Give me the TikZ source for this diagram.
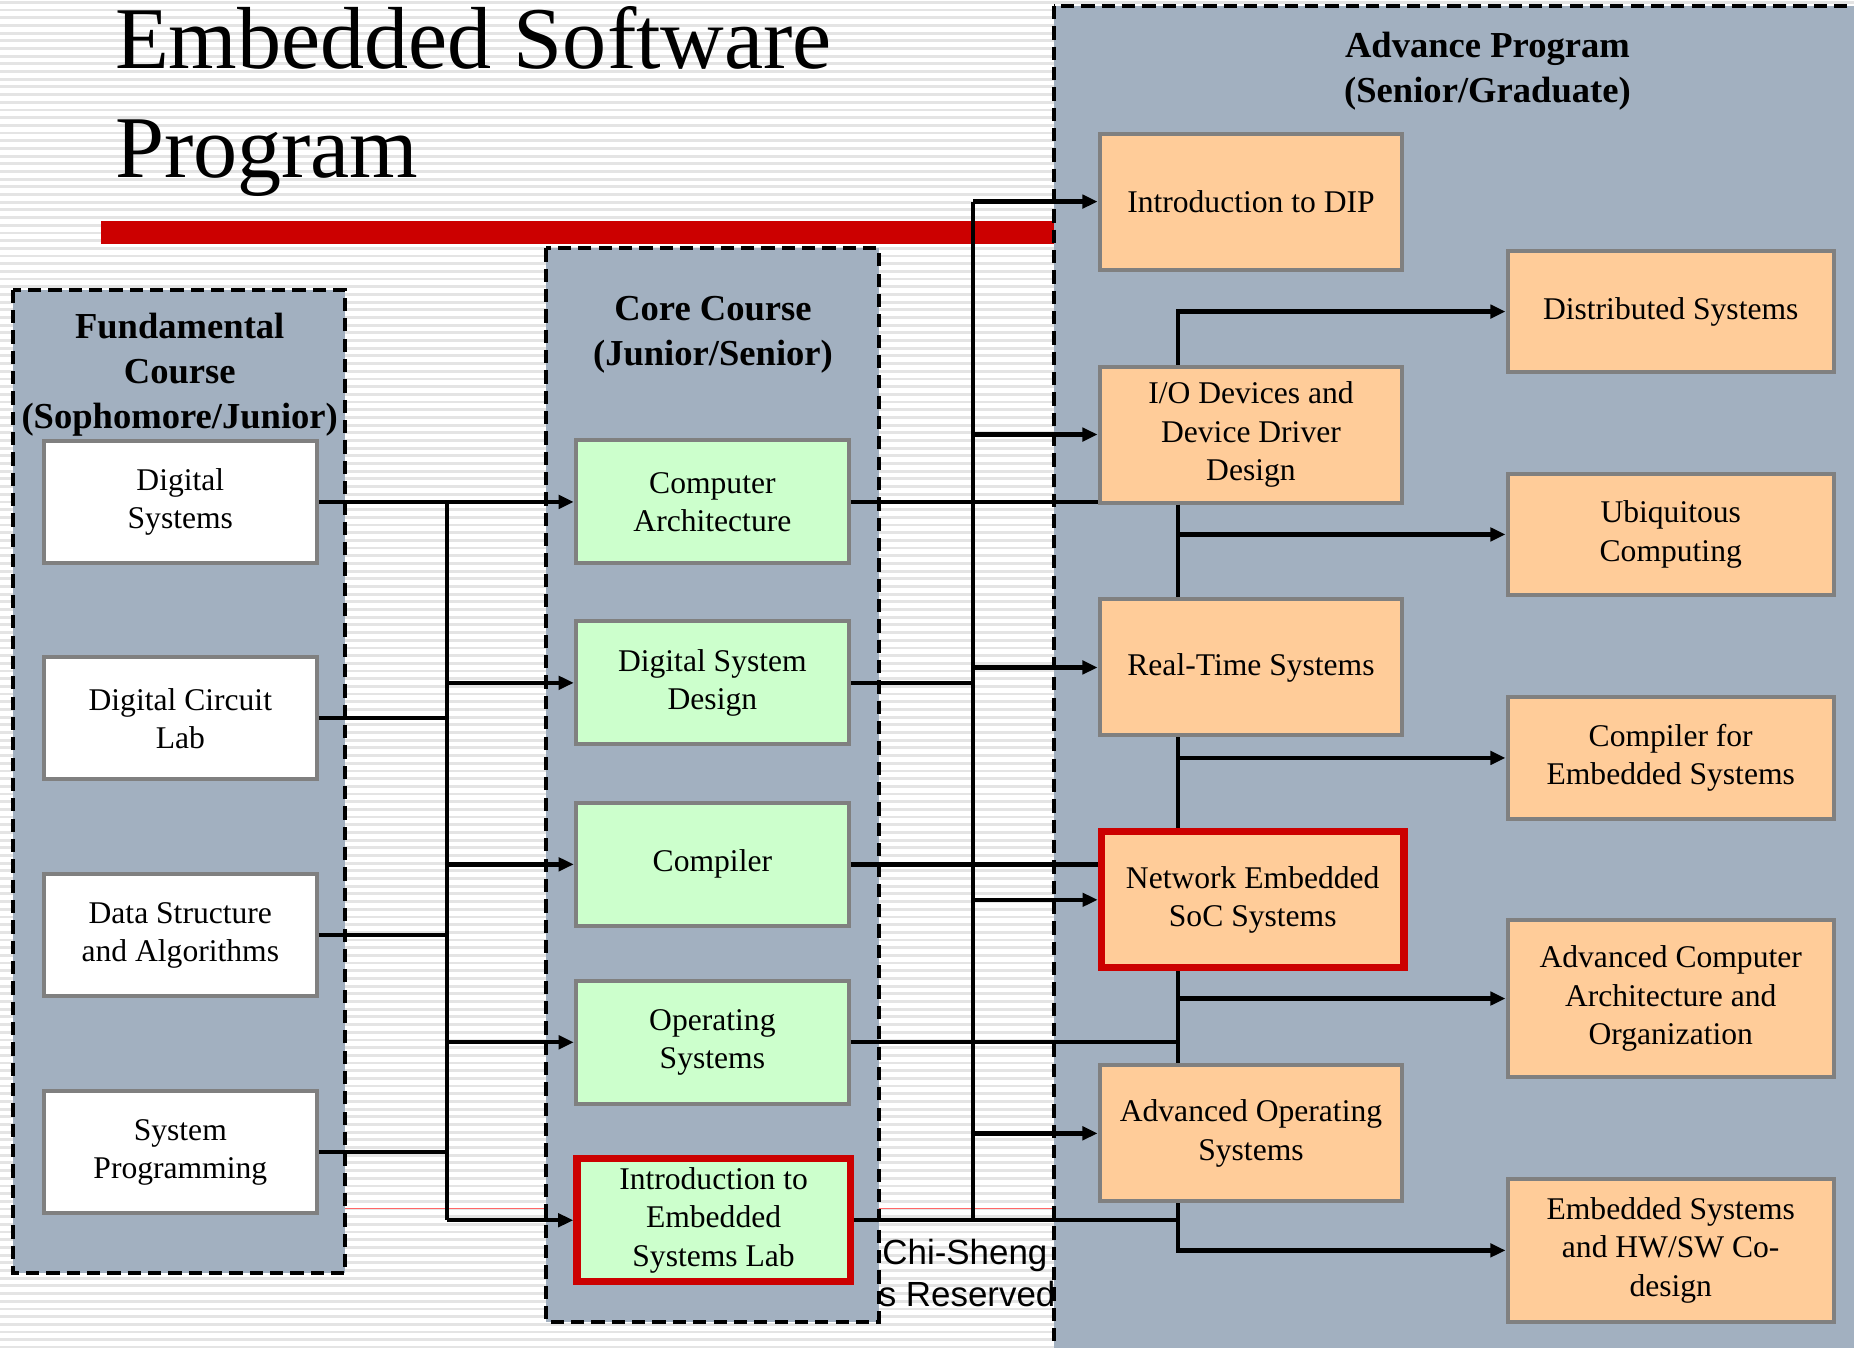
\documentclass[tikz,border=0pt]{standalone}
\usepackage{fontspec}
\setmainfont{Liberation Serif}
\newfontfamily\footfont{Liberation Sans}
\usetikzlibrary{arrows.meta, positioning, calc}
\definecolor{grpfill}{RGB}{162,176,192}
\definecolor{coregreen}{RGB}{204,255,204}
\definecolor{advpeach}{RGB}{255,204,153}
\definecolor{boxgray}{RGB}{128,128,128}
\definecolor{keyred}{RGB}{204,0,0}
\definecolor{stripegray}{RGB}{228,228,228}
\tikzset{
  course/.style={rectangle, draw=boxgray, line width=2.4pt, align=center,
    inner sep=2pt, font=\fontsize{19}{23}\selectfont},
  fundbox/.style={course, fill=white, minimum width=5.775cm, minimum height=2.575cm},
  corebox/.style={course, fill=coregreen, minimum width=5.775cm, minimum height=2.6cm},
  advbox/.style={course, fill=advpeach, minimum width=6.4cm, minimum height=2.875cm},
  advboxr/.style={course, fill=advpeach, minimum width=6.9cm, minimum height=2.575cm},
  keybox/.style={draw=keyred, line width=4.4pt},
  grpbox/.style={draw=black, line width=2.4pt, dash pattern=on 0.28cm off 0.15cm, fill=grpfill},
  grptitle/.style={font=\bfseries\fontsize{22}{27}\selectfont, align=center},
  conn/.style={line width=2.6pt},
  arr/.style={conn, -{Triangle[length=0.32cm,width=0.28cm]}}
}

\begin{document}
\begin{tikzpicture}[x=0.025cm, y=-0.025cm]
  \clip (0,0) rectangle (1568,1140);
  % striped slide background
  \fill[white] (0,0) rectangle (1568,1140);
  \foreach \y in {2,8.5,...,1140}
    \draw[stripegray, line width=0.06cm] (0,\y) -- (1568,\y);

  % title and red bar
  \node[anchor=base west, font=\fontsize{53}{65}\selectfont, inner sep=0pt] (title1) at (97,58) {Embedded Software};
  \node[anchor=base west, font=\fontsize{53}{65}\selectfont, inner sep=0pt] (title2) at (97,150) {Program};
  \fill[keyred] (85,187) rectangle (891,206);

  % footer remains behind the groups
  \draw[red!60, line width=0.6pt] (292,1022) -- (891,1022);
  \node[anchor=west, inner sep=0pt, font=\footfont\fontsize{21}{25}\selectfont] (foot1) at (746,1062) {Chi-Sheng};
  \node[anchor=west, inner sep=0pt, font=\footfont\fontsize{21}{25}\selectfont] (foot2) at (743,1094) {s Reserved};

  % groups
  \draw[grpbox] (11,245) rectangle (292,1077);
  \draw[grpbox] (462,210) rectangle (743,1118);
  \draw[grpbox] (891,5) rectangle (1600,1180);
  \node[grptitle] (fundtitle) at (152,317) {Fundamental\\Course\\(Sophomore/Junior)};
  \node[grptitle] (coretitle) at (603,283) {Core Course\\(Junior/Senior)};
  \node[grptitle] (advtitle) at (1258,60) {Advance Program\\(Senior/Graduate)};

  % fundamental courses
  \node[fundbox] (dsys) at (152.5,424.5) {Digital\\Systems};
  \node[fundbox] (dcl) at (152.5,607.5) {Digital Circuit\\Lab};
  \node[fundbox] (dsa) at (152.5,791) {Data Structure\\and Algorithms};
  \node[fundbox] (sysp) at (152.5,974.5) {System\\Programming};

  % core courses
  \node[corebox] (carch) at (602.5,424.5) {Computer\\Architecture};
  \node[corebox] (dsd) at (602.5,577.5) {Digital System\\Design};
  \node[corebox] (comp) at (602.5,731) {Compiler};
  \node[corebox] (os) at (602.5,881.5) {Operating\\Systems};
  \node[corebox, keybox] (lab) at (603.5,1032) {Introduction to\\Embedded\\Systems Lab};

  % advanced courses
  \node[advbox] (dip) at (1058,170.5) {Introduction to DIP};
  \node[advbox] (io) at (1058,367.5) {I/O Devices and\\Device Driver\\Design};
  \node[advbox] (rts) at (1058,564.5) {Real-Time Systems};
  \node[advbox, keybox] (nes) at (1059.5,761) {Network Embedded\\SoC Systems};
  \node[advbox] (aos) at (1058,958.5) {Advanced Operating\\Systems};
  \node[advboxr] (dist) at (1413,263.5) {Distributed Systems};
  \node[advboxr] (ubi) at (1413,452) {Ubiquitous\\Computing};
  \node[advboxr] (cfes) at (1413,641) {Compiler for\\Embedded Systems};
  \node[advboxr, minimum height=3.325cm] (aca) at (1413,844.5) {Advanced Computer\\Architecture and\\Organization};
  \node[advboxr, minimum height=3.025cm] (hwsw) at (1413,1057.5) {Embedded Systems\\and HW/SW Co-\\design};

  % buses
  \coordinate (lbus) at (378,0);
  \coordinate (mbus) at (823,0);
  \coordinate (rbus) at (996,0);

  % fundamental -> core
  \draw[arr] (dsys.east) -- (carch.west);
  \draw[conn] (dsys.east -| lbus) -- (lab.west -| lbus);
  \foreach \n in {dcl, dsa, sysp}
    \draw[conn] (\n.east) -- (\n.east -| lbus);
  \foreach \n in {dsd, comp, os, lab}
    \draw[arr] (\n.west -| lbus) -- (\n.west);

  % core -> advanced
  \draw[conn] (dip.west -| mbus) -- (lab.east -| mbus);
  \draw[conn] (carch.east) -- (carch.east -| io.west);
  \draw[conn] (dsd.east) -- (dsd.east -| mbus);
  \draw[conn] (comp.east) -- (comp.east -| nes.west);
  \draw[conn] (os.east) -- (os.east -| rbus);
  \draw[conn] (lab.east) -- (lab.east -| rbus);
  \foreach \n in {dip, io, rts, nes, aos}
    \draw[arr] (\n.west -| mbus) -- (\n.west);

  % advanced chain
  \draw[arr] (io.north -| rbus) |- (dist.west);
  \draw[conn] (io.south -| rbus) -- (rts.north -| rbus);
  \draw[arr] (ubi.west -| rbus) -- (ubi.west);
  \draw[conn] (rts.south -| rbus) -- (nes.north -| rbus);
  \draw[arr] (cfes.west -| rbus) -- (cfes.west);
  \draw[conn] (nes.south -| rbus) -- (aos.north -| rbus);
  \draw[arr] (aca.west -| rbus) -- (aca.west);
  \draw[arr] (aos.south -| rbus) |- (hwsw.west);
\end{tikzpicture}
\end{document}
